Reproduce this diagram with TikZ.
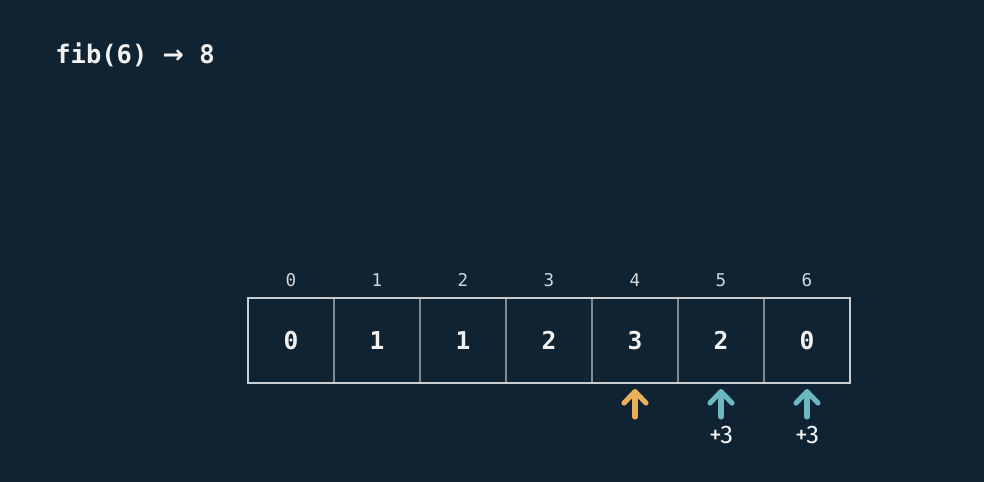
\documentclass[tikz,border=0pt]{standalone}
\usepackage{fontspec}
\setmonofont{DejaVu Sans Mono}
\setsansfont{Fira Sans}
\newfontfamily\arrowfont{DejaVu Sans}
\usepackage{tikz}
\usetikzlibrary{arrows.meta}
\usetikzlibrary{positioning}
\definecolor{memo-bg}{HTML}{0F2332}
\definecolor{memo-text}{HTML}{F2F2F2}
\definecolor{memo-index}{HTML}{D2D6DA}
\definecolor{memo-frame}{HTML}{C9CED3}
\definecolor{memo-divider}{HTML}{7E8A94}
\definecolor{memo-orange}{HTML}{E9B157}
\definecolor{memo-teal}{HTML}{6DB7C1}

\begin{document}
\begin{tikzpicture}

    % canvas
    \fill[memo-bg] (0,0) rectangle (19.68,-9.64);
    \useasboundingbox (0,0) rectangle (19.68,-9.64);

    % call and result
    \node[anchor=west, inner sep=0, text=memo-text, font=\ttfamily\bfseries\fontsize{14.5}{17}\selectfont] (call) at (1.1,-1.1) {fib(6) {\arrowfont\bfseries →} 8};

    % memo table
    \begin{scope}[every node/.style={draw=memo-divider, line width=0.7pt, outer sep=0, minimum width=1.72cm, minimum height=1.7cm, inner sep=0, text=memo-text, font=\ttfamily\bfseries\fontsize{14}{17}\selectfont}]
        \node (c0) at (5.82,-6.81) {0};
        \node[right=0cm of c0] (c1) {1};
        \node[right=0cm of c1] (c2) {1};
        \node[right=0cm of c2] (c3) {2};
        \node[right=0cm of c3] (c4) {3};
        \node[right=0cm of c4] (c5) {2};
        \node[right=0cm of c5] (c6) {0};
    \end{scope}
    \draw[memo-frame, line width=1.2pt] (c0.north west) rectangle (c6.south east);

    % indices
    \begin{scope}[every node/.style={inner sep=0, text=memo-index, font=\ttfamily\fontsize{10}{12}\selectfont}]
        \foreach \i in {0,...,6}
            \node[above=0.22cm of c\i] (i\i) {\i};
    \end{scope}

    % pointers
    \tikzset{ptr/.style={line width=2.9pt, line cap=round, line join=round,
                         -{Straight Barb[length=2.3mm, width=4.4mm, line cap=round, line join=round]},
                         shorten >=0.12cm}}
    \coordinate[below=0.68cm of c4] (t4);
    \coordinate[below=0.68cm of c5] (t5);
    \coordinate[below=0.68cm of c6] (t6);
    \draw[ptr, memo-orange] (t4) -- (c4.south);
    \draw[ptr, memo-teal] (t5) -- (c5.south);
    \draw[ptr, memo-teal] (t6) -- (c6.south);

    % additions
    \begin{scope}[every node/.style={inner sep=0, text=memo-text, font=\sffamily\fontsize{14.5}{17}\selectfont}]
        \node[below=0.18cm of t5] (p5) {+3};
        \node[below=0.18cm of t6] (p6) {+3};
    \end{scope}

\end{tikzpicture}
\end{document}
